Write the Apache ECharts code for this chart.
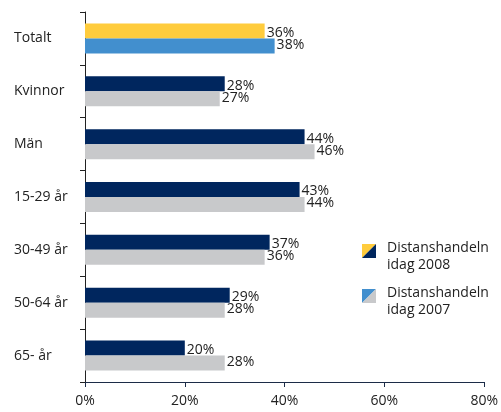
<!DOCTYPE html>
<html>
<head>
<meta charset="utf-8">
<script src="https://cdn.jsdelivr.net/npm/echarts@6/dist/echarts.min.js"></script>
<style>
	html, body { margin: 0; padding: 0; background: #fff; }
	#chart { width: 501px; height: 412px; }
</style>
</head>
<body>
<div id="chart"></div>
<script>
	// kategorier uppifrån och ned
	var categories = ['Totalt', 'Kvinnor', 'Män', '15-29 år', '30-49 år', '50-64 år', '65- år'];
	var values2008 = [36, 28, 44, 43, 37, 29, 20];
	var values2007 = [38, 27, 46, 44, 36, 28, 28];
	var xTicks = [0, 20, 40, 60, 80];

	var navy = '#00265e', grey = '#c8c9cb', yellow = '#ffcc3d', blue = '#428fce';
	var font = '"Open Sans", "Noto Sans", sans-serif';

	function toData(vals, totalColor) {
		return vals.map(function (v, i) {
			if (i === 0) return { value: v, itemStyle: { color: totalColor } };
			return v;
		});
	}

	var chart = echarts.init(document.getElementById('chart'));
	chart.setOption({
		animation: false,
		grid: { left: 85, right: 14, top: 12, bottom: 30 },
		xAxis: {
			type: 'value',
			min: xTicks[0],
			max: xTicks[xTicks.length - 1],
			interval: 20,
			splitLine: { show: false },
			axisLine: { show: true, lineStyle: { color: '#1c2c48', width: 1 } },
			axisTick: { show: true, length: 5, lineStyle: { color: '#1c2c48' } },
			axisLabel: { formatter: '{value}%', color: '#222', fontSize: 14, fontFamily: font, margin: 12 }
		},
		yAxis: {
			type: 'category',
			inverse: true,
			data: categories,
			axisLine: { show: true, lineStyle: { color: '#222' } },
			axisTick: { show: true, length: 5, lineStyle: { color: '#222' } },
			axisLabel: { align: 'left', margin: 71, color: '#222', fontSize: 14, fontFamily: font }
		},
		series: [{
			name: 'Distanshandeln idag 2008',
			type: 'bar',
			data: toData(values2008, yellow),
			itemStyle: { color: navy },
			barWidth: 15,
			barGap: '0%',
			label: { show: true, position: 'right', distance: 2, offset: [0, 2], formatter: '{c}%', color: '#222', fontSize: 14, fontFamily: font }
		}, {
			name: 'Distanshandeln idag 2007',
			type: 'bar',
			data: toData(values2007, blue),
			itemStyle: { color: grey },
			barWidth: 15,
			barGap: '0%',
			label: { show: true, position: 'right', distance: 2, offset: [0, -1], formatter: '{c}%', color: '#222', fontSize: 14, fontFamily: font }
		}],
		graphic: [
			// förklaring med delade rutor
			{ type: 'polygon', left: 362, top: 244, shape: { points: [[0, 0], [14, 0], [0, 14]] }, style: { fill: yellow } },
			{ type: 'polygon', left: 362, top: 244, shape: { points: [[14, 0], [14, 14], [0, 14]] }, style: { fill: navy } },
			{ type: 'text', left: 387, top: 240, style: { text: 'Distanshandeln\nidag 2008', fill: '#222', font: '14px ' + font, lineHeight: 17 } },
			{ type: 'polygon', left: 362, top: 289, shape: { points: [[0, 0], [14, 0], [0, 14]] }, style: { fill: blue } },
			{ type: 'polygon', left: 362, top: 289, shape: { points: [[14, 0], [14, 14], [0, 14]] }, style: { fill: grey } },
			{ type: 'text', left: 387, top: 285, style: { text: 'Distanshandeln\nidag 2007', fill: '#222', font: '14px ' + font, lineHeight: 17 } }
		]
	});
</script>
</body>
</html>
